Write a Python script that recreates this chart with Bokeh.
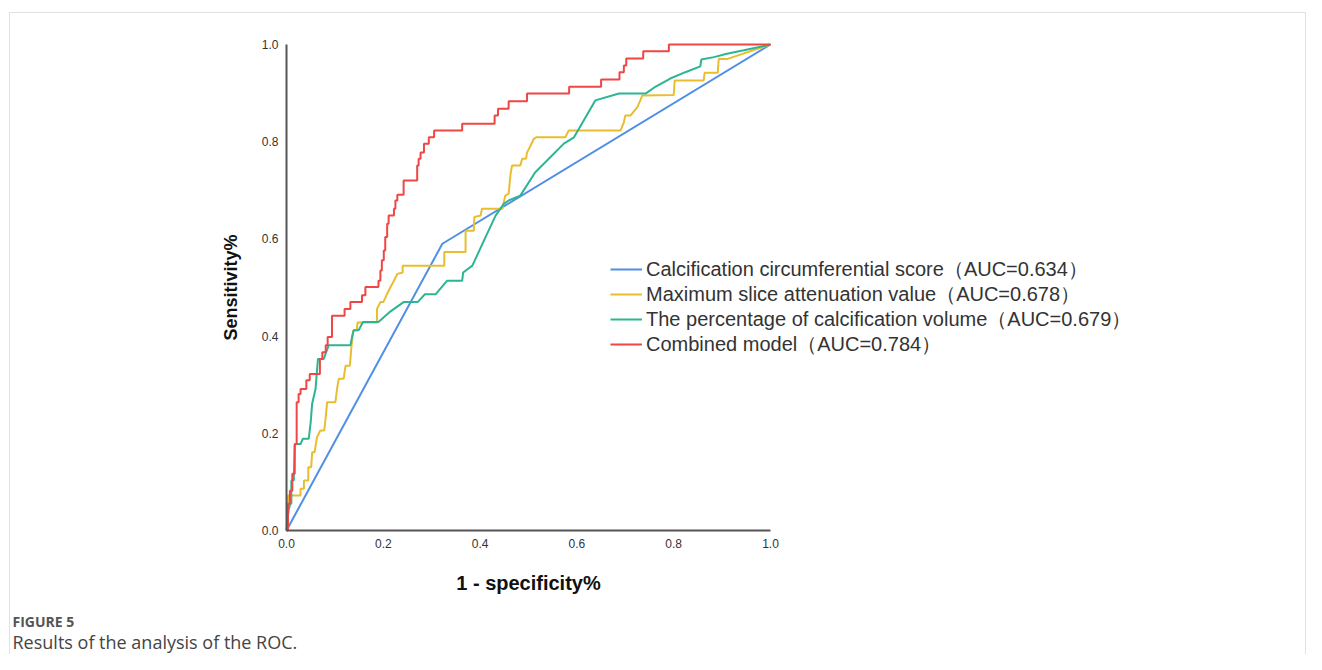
from bokeh.plotting import figure
from bokeh.models import (Range1d, FixedTicker, PrintfTickFormatter, Legend, LegendItem,
                          Label, BoxAnnotation, LinearAxis)
from bokeh.embed import file_html
from bokeh.resources import INLINE

# ---- data ----
x_ticks = [0.0, 0.2, 0.4, 0.6, 0.8, 1.0]
y_ticks = [0.0, 0.2, 0.4, 0.6, 0.8, 1.0]

labels = [
    "Calcification circumferential score（AUC=0.634）",
    "Maximum slice attenuation value（AUC=0.678）",
    "The percentage of calcification volume（AUC=0.679）",
    "Combined model（AUC=0.784）",
]
colors = ["#4F8FE6", "#E8BE30", "#2DB493", "#EF4646"]

circ_fpr = [0.0, 0.322, 1.0]
circ_tpr = [0.0, 0.590, 1.0]

maxs_fpr = [0.0, 0.003, 0.003, 0.029, 0.029, 0.036, 0.036, 0.045, 0.045, 0.051, 0.053, 0.058,
            0.063, 0.070, 0.078, 0.081, 0.084, 0.101, 0.105, 0.108, 0.118, 0.122, 0.131, 0.134,
            0.138, 0.145, 0.147, 0.187, 0.187, 0.194, 0.200, 0.208, 0.215, 0.222, 0.229, 0.240,
            0.240, 0.326, 0.326, 0.370, 0.370, 0.387, 0.388, 0.401, 0.404, 0.446, 0.449, 0.452,
            0.459, 0.463, 0.466, 0.483, 0.487, 0.495, 0.497, 0.503, 0.511, 0.516, 0.576, 0.583,
            0.690, 0.697, 0.700, 0.711, 0.725, 0.731, 0.735, 0.800, 0.802, 0.862, 0.864, 0.891,
            0.893, 0.910, 1.0]
maxs_tpr = [0.0, 0.0, 0.072, 0.072, 0.086, 0.086, 0.103, 0.103, 0.130, 0.130, 0.161, 0.161,
            0.192, 0.206, 0.206, 0.233, 0.264, 0.264, 0.295, 0.312, 0.312, 0.339, 0.339, 0.377,
            0.412, 0.412, 0.428, 0.428, 0.456, 0.470, 0.470, 0.487, 0.501, 0.514, 0.528, 0.531,
            0.545, 0.545, 0.573, 0.573, 0.617, 0.617, 0.645, 0.648, 0.662, 0.662, 0.676, 0.689,
            0.693, 0.734, 0.751, 0.751, 0.765, 0.765, 0.778, 0.789, 0.806, 0.809, 0.809, 0.823,
            0.823, 0.840, 0.854, 0.854, 0.871, 0.885, 0.895, 0.896, 0.926, 0.926, 0.942, 0.942,
            0.970, 0.970, 1.0]

vol_fpr = [0.0, 0.003, 0.005, 0.008, 0.010, 0.010, 0.015, 0.017, 0.019, 0.029, 0.034, 0.046,
           0.048, 0.050, 0.053, 0.056, 0.060, 0.063, 0.065, 0.077, 0.087, 0.132, 0.136, 0.139,
           0.149, 0.158, 0.190, 0.215, 0.242, 0.271, 0.286, 0.308, 0.332, 0.363, 0.365, 0.384,
           0.411, 0.432, 0.449, 0.459, 0.483, 0.514, 0.545, 0.573, 0.594, 0.638, 0.687, 0.742,
           0.762, 0.793, 0.824, 0.855, 0.857, 0.883, 0.910, 0.945, 1.0]
vol_tpr = [0.0, 0.030, 0.045, 0.055, 0.055, 0.103, 0.103, 0.175, 0.178, 0.178, 0.189, 0.189,
           0.206, 0.223, 0.261, 0.274, 0.291, 0.329, 0.353, 0.353, 0.381, 0.381, 0.401, 0.412,
           0.412, 0.429, 0.429, 0.451, 0.470, 0.470, 0.486, 0.486, 0.514, 0.514, 0.531, 0.545,
           0.603, 0.648, 0.672, 0.679, 0.689, 0.737, 0.768, 0.796, 0.809, 0.885, 0.899, 0.899,
           0.913, 0.930, 0.943, 0.955, 0.969, 0.974, 0.981, 0.988, 1.0]

comb_fpr = [0.0, 0.003, 0.003, 0.007, 0.007, 0.012, 0.012, 0.017, 0.017, 0.021, 0.021, 0.025,
            0.025, 0.029, 0.029, 0.041, 0.041, 0.048, 0.048, 0.069, 0.069, 0.074, 0.074, 0.081,
            0.081, 0.085, 0.085, 0.094, 0.094, 0.120, 0.120, 0.132, 0.132, 0.156, 0.156, 0.163,
            0.163, 0.190, 0.190, 0.194, 0.194, 0.197, 0.197, 0.201, 0.201, 0.204, 0.204, 0.208,
            0.208, 0.211, 0.211, 0.222, 0.222, 0.225, 0.225, 0.229, 0.229, 0.242, 0.242, 0.270,
            0.270, 0.273, 0.273, 0.277, 0.277, 0.284, 0.284, 0.294, 0.294, 0.305, 0.305, 0.363,
            0.363, 0.430, 0.430, 0.437, 0.437, 0.459, 0.459, 0.497, 0.497, 0.584, 0.584, 0.650,
            0.650, 0.688, 0.688, 0.697, 0.697, 0.702, 0.702, 0.737, 0.737, 0.790, 0.790, 0.911,
            0.911, 1.0]
comb_tpr = [0.0, 0.0, 0.055, 0.055, 0.082, 0.082, 0.117, 0.117, 0.178, 0.178, 0.264, 0.264,
            0.281, 0.281, 0.291, 0.291, 0.309, 0.309, 0.322, 0.322, 0.353, 0.353, 0.367, 0.367,
            0.381, 0.381, 0.398, 0.398, 0.442, 0.442, 0.456, 0.456, 0.470, 0.470, 0.484, 0.484,
            0.501, 0.501, 0.514, 0.514, 0.535, 0.535, 0.556, 0.556, 0.576, 0.576, 0.604, 0.604,
            0.631, 0.631, 0.648, 0.648, 0.662, 0.662, 0.679, 0.679, 0.691, 0.691, 0.720, 0.720,
            0.751, 0.751, 0.765, 0.765, 0.778, 0.778, 0.796, 0.796, 0.809, 0.809, 0.823, 0.823,
            0.837, 0.837, 0.854, 0.854, 0.868, 0.868, 0.883, 0.883, 0.899, 0.899, 0.913, 0.913,
            0.928, 0.928, 0.943, 0.943, 0.957, 0.957, 0.971, 0.971, 0.986, 0.986, 1.0, 1.0,
            1.0, 1.0]

series = [(circ_fpr, circ_tpr), (maxs_fpr, maxs_tpr), (vol_fpr, vol_tpr), (comb_fpr, comb_tpr)]

# ---- layout (pixels) ----
W, H = 1306, 654
AX_L, AX_R, AX_T, AX_B = 286, 770, 44, 530      # where 0..1 lands on the canvas
sx = (AX_R - AX_L)
sy = (AX_B - AX_T)
x_range = Range1d(-AX_L / sx, (W - AX_L) / sx)
y_range = Range1d(-(H - AX_B) / sy, 1 + AX_T / sy)

p = figure(width=W, height=H, output_backend="svg", toolbar_location=None,
           x_range=x_range, y_range=y_range,
           x_axis_location=None, y_axis_location=None, min_border=0)
p.background_fill_color = "white"
p.border_fill_color = "white"
p.outline_line_color = None
p.grid.visible = False

xaxis = LinearAxis(fixed_location=0, bounds=(0, 1), axis_label="1 - specificity%")
yaxis = LinearAxis(fixed_location=0, bounds=(0, 1), axis_label="Sensitivity%")
xaxis.ticker = FixedTicker(ticks=x_ticks)
yaxis.ticker = FixedTicker(ticks=y_ticks)
for ax in (xaxis, yaxis):
    ax.formatter = PrintfTickFormatter(format="%.1f")
    ax.major_tick_line_color = None
    ax.minor_tick_line_color = None
    ax.major_tick_in = 0
    ax.major_tick_out = 0
    ax.axis_line_color = "#555555"
    ax.axis_line_width = 2
    ax.major_label_text_font = "Liberation Sans"
    ax.major_label_text_font_size = "12px"
    ax.major_label_text_color = "#333333"
    ax.axis_label_text_font = "Liberation Sans"
    ax.axis_label_text_font_style = "bold"
    ax.axis_label_text_color = "#111111"
    ax.major_label_standoff = 8
xaxis.axis_label_text_font_size = "20px"
yaxis.axis_label_text_font_size = "18px"
xaxis.axis_label_standoff = 21
yaxis.axis_label_standoff = 18
p.add_layout(xaxis, "below")
p.add_layout(yaxis, "left")

# legend rows: vertical centres in canvas pixels
ROW_Y = [269, 294, 319, 344]
ROW_H = 27
for (xs, ys), lab, c, cy in zip(series, labels, colors, ROW_Y):
    r = p.line(xs, ys, line_color=c, line_width=2)
    lg = Legend(items=[LegendItem(label=lab, renderers=[r])],
                location=(610, H - (cy + ROW_H / 2)), glyph_width=32, glyph_height=20,
                label_standoff=4, spacing=0, padding=0, margin=0,
                border_line_color=None, background_fill_alpha=0,
                label_text_font="Liberation Sans", label_text_font_size="20px",
                label_text_color="#333333", label_height=20)
    p.add_layout(lg, "center")

# outer frame of the figure panel
frame_box = BoxAnnotation(left=9, right=1305, top=H - 12, bottom=-10,
                          left_units="screen", right_units="screen",
                          top_units="screen", bottom_units="screen",
                          fill_alpha=0, line_color="#9a9a9a", line_width=1)
p.add_layout(frame_box)

cap1 = Label(x=12, y=H - 621, x_units="screen", y_units="screen", text="FIGURE 5",
             text_font="Open Sans", text_font_style="bold", text_font_size="14px",
             text_color="#555555", text_baseline="middle")
cap2 = Label(x=12, y=H - 641, x_units="screen", y_units="screen",
             text="Results of the analysis of the ROC.",
             text_font="Open Sans", text_font_size="18px",
             text_color="#444444", text_baseline="middle")
p.add_layout(cap1)
p.add_layout(cap2)

open("out.html", "w").write(file_html(p, INLINE))
